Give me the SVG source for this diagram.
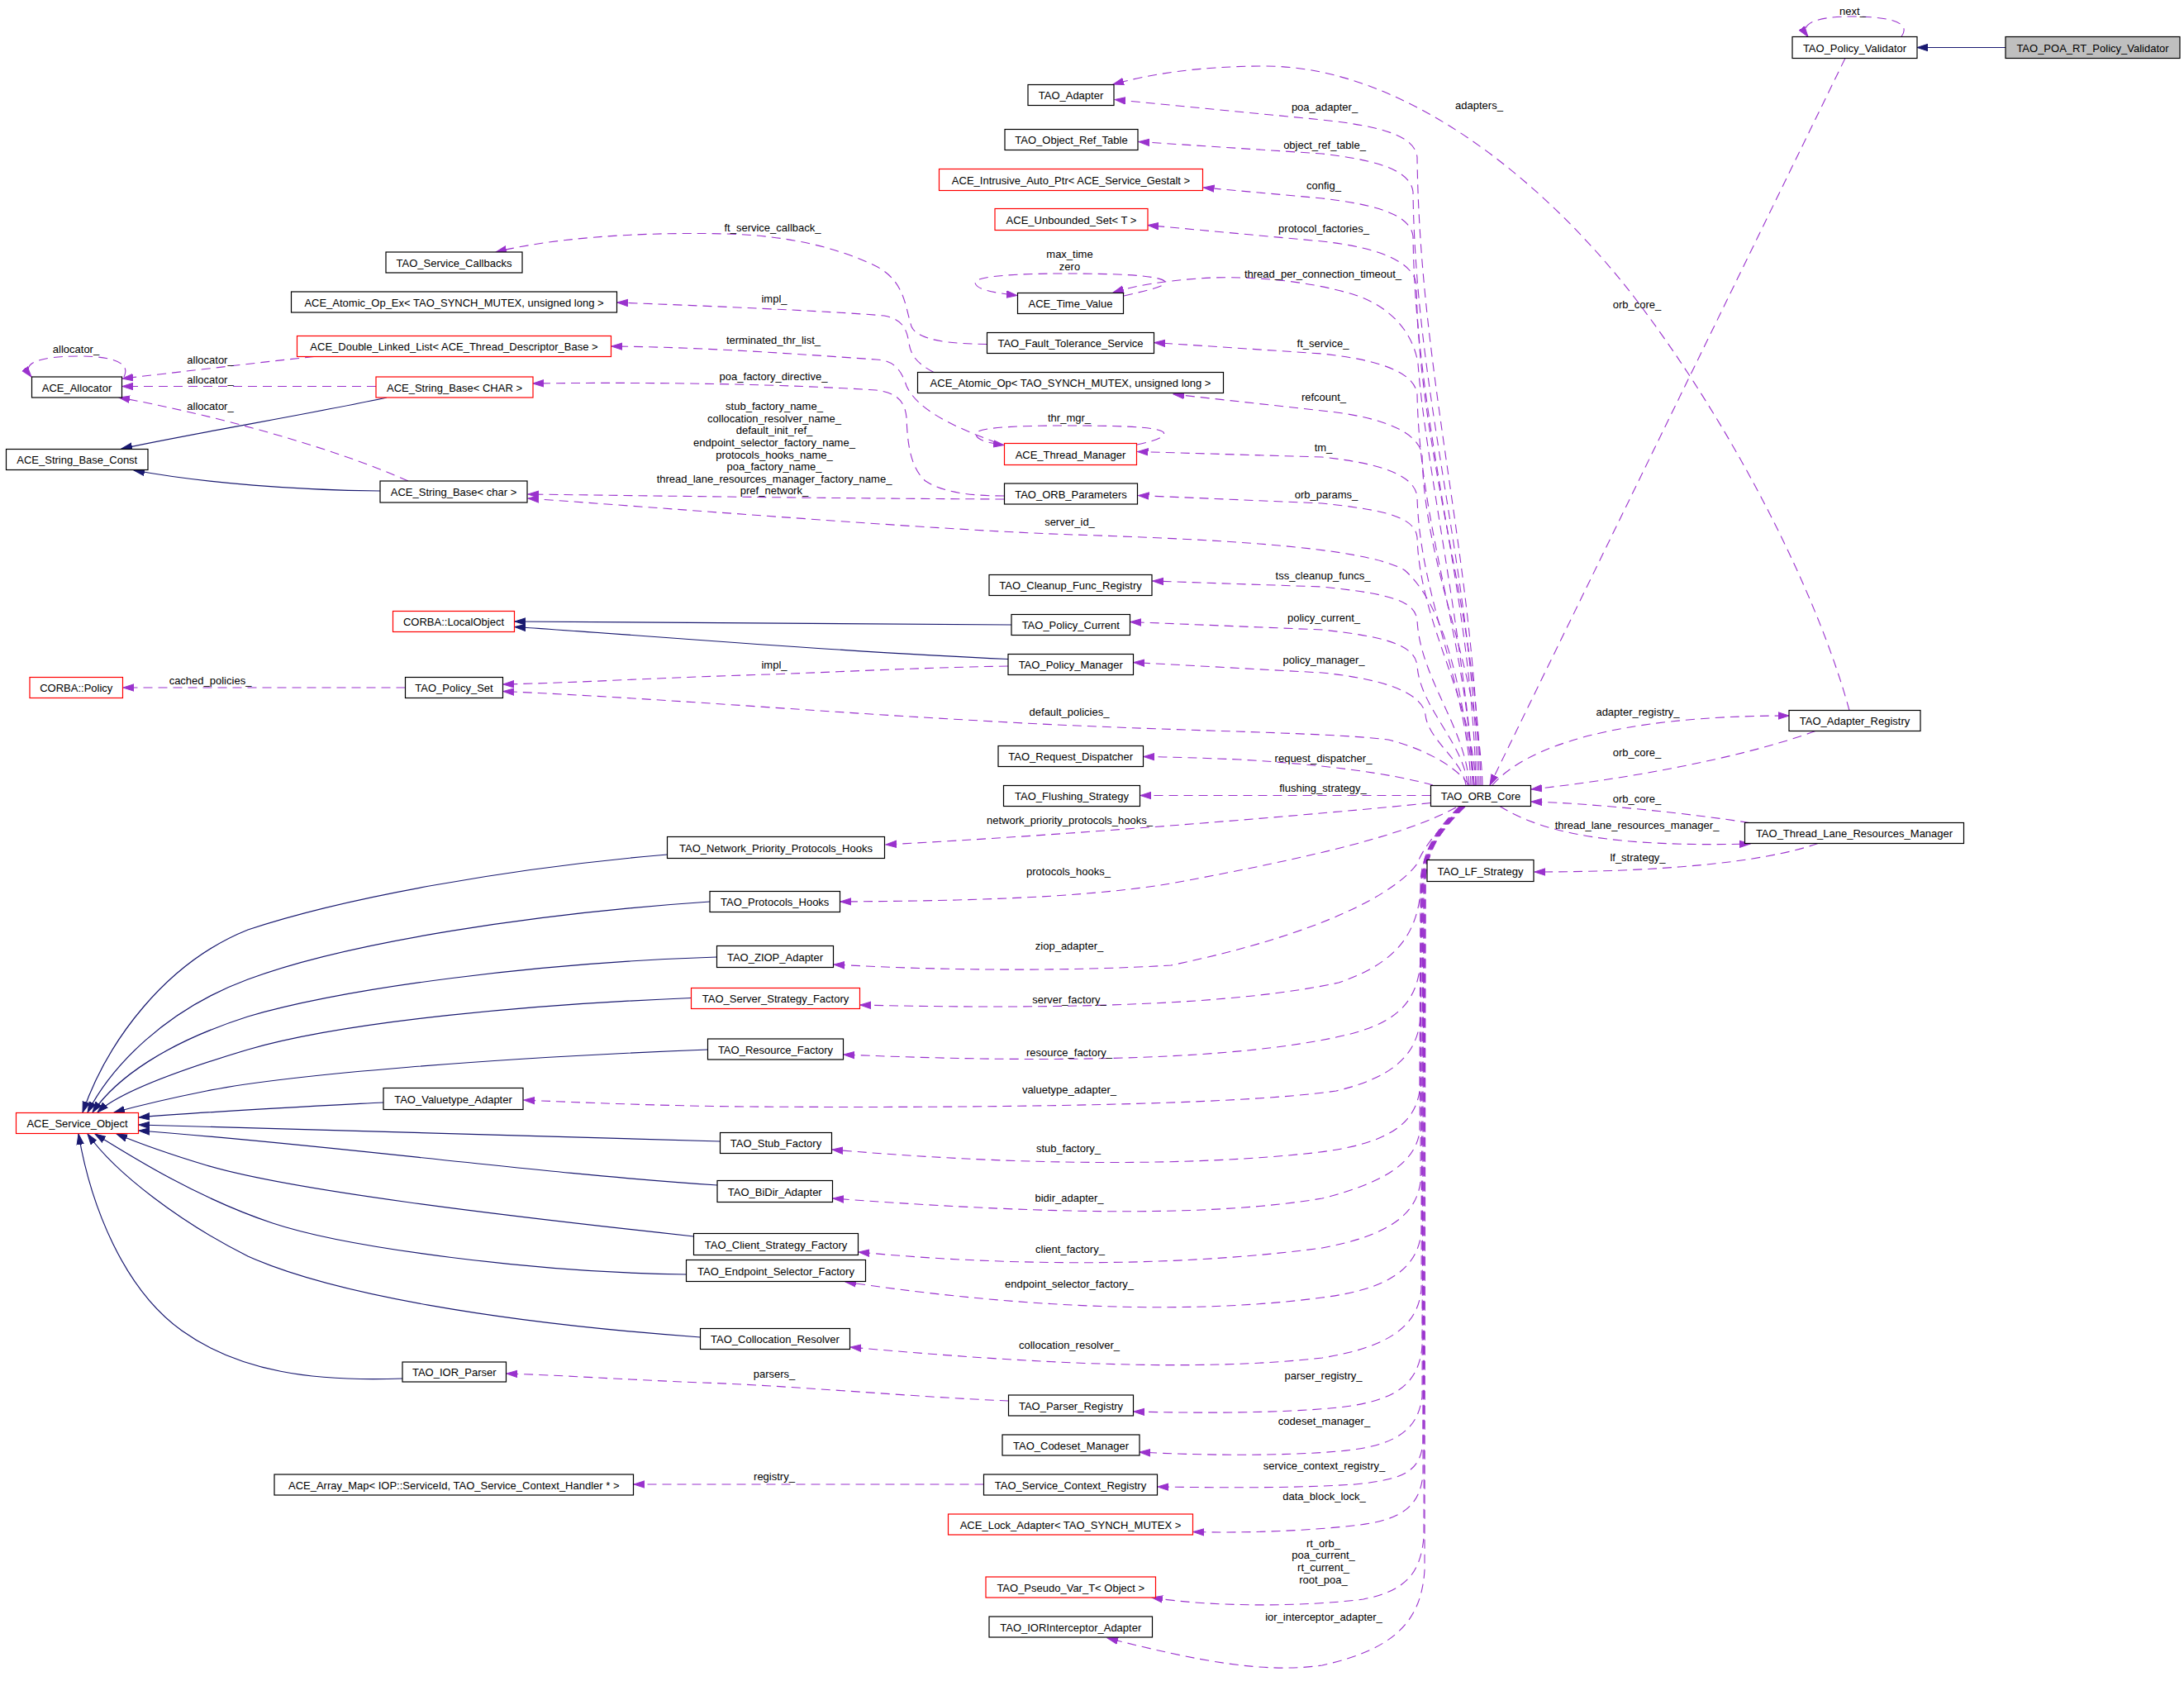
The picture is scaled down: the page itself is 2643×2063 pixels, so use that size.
<svg xmlns="http://www.w3.org/2000/svg" width="2643" height="2063" viewBox="0 0 2643 2063">
<style>
text{font-family:"Liberation Sans",Arial,sans-serif;font-size:13px;fill:#000}
.node rect{fill:#fff;stroke:#000;stroke-width:1.2}
.node.red rect{stroke:#ff0000}
.node.cur rect{fill:#bfbfbf}
.node text{text-anchor:middle}
#edges path{fill:none}
#edges .inh{stroke:#191970;stroke-width:1.2;marker-end:url(#ai)}
#edges .cmp{stroke:#9a32cd;stroke-width:1.1;stroke-dasharray:11,7;marker-end:url(#ac)}
#labels text{text-anchor:middle}
</style>
<defs>
<marker id="ai" markerWidth="14" markerHeight="10" refX="13" refY="5" orient="auto" markerUnits="userSpaceOnUse"><path d="M0,0.8 L13,5 L0,9.2 z" fill="#191970" stroke="#191970" stroke-width="1"/></marker>
<marker id="ac" markerWidth="14" markerHeight="10" refX="13" refY="5" orient="auto" markerUnits="userSpaceOnUse"><path d="M0,0.8 L13,5 L0,9.2 z" fill="#9a32cd" stroke="#9a32cd" stroke-width="1"/></marker>
</defs>
<rect x="0" y="0" width="2643" height="2063" fill="#fff"/>

<g id="edges">
<!-- inheritance -->
<path class="inh" d="M2427,57.5 L2320,57.5"/>
<path class="inh" d="M468,481 C380,500 230,525 147,543"/>
<path class="inh" d="M460,594 C360,593 250,585 162,569"/>
<path class="inh" d="M1224,756 C1000,755 800,752 623,752"/>
<path class="inh" d="M1220,797.5 C1000,788 800,770 623,758.5"/>
<path class="inh" d="M807.5,1034 C620,1050 420,1085 300,1125 C200,1165 130,1260 100,1346"/>
<path class="inh" d="M859,1091 C650,1105 420,1140 300,1185 C200,1222 135,1290 106,1346"/>
<path class="inh" d="M867.5,1158 C650,1165 420,1195 300,1230 C200,1262 140,1305 112,1346"/>
<path class="inh" d="M836.5,1207.5 C650,1215 420,1235 300,1270 C200,1300 140,1325 118,1346"/>
<path class="inh" d="M856.5,1270 C600,1280 350,1300 250,1320 C200,1330 160,1340 138,1346"/>
<path class="inh" d="M464,1334 C350,1340 250,1345 168,1352"/>
<path class="inh" d="M871.5,1381 C600,1375 350,1366 168,1361"/>
<path class="inh" d="M868,1434 C650,1420 400,1385 168,1368"/>
<path class="inh" d="M839.5,1496 C600,1470 350,1440 250,1410 C200,1395 165,1382 141,1372"/>
<path class="inh" d="M830.5,1542 C650,1540 420,1510 330,1480 C240,1450 160,1400 115,1372"/>
<path class="inh" d="M847.5,1618 C600,1600 400,1565 300,1520 C220,1480 140,1420 106,1372"/>
<path class="inh" d="M487,1668 C380,1672 290,1660 220,1610 C150,1560 110,1460 95,1372"/>
<!-- composition / usage -->
<path class="cmp" d="M2301,44.5 C2315,25 2280,20 2240,20 C2200,20 2176,28 2188,44.5"/>
<path class="cmp" d="M2233,70.5 L1803,950"/>
<path class="cmp" d="M2238,859.5 C2200,720 2100,520 1978,360 C1870,220 1700,80 1531,80 C1450,80 1390,90 1347,102"/>
<path class="cmp" d="M1806,950 C1845,905 1950,866 2165,866"/>
<path class="cmp" d="M2197,884.5 C2100,920 1950,945 1853,955"/>
<path class="cmp" d="M2117,995.5 C2050,985 1930,972 1853,970"/>
<path class="cmp" d="M1815,975.5 C1870,1010 1960,1025 2118,1021"/>
<path class="cmp" d="M2200,1020.5 C2130,1045 2000,1055 1857,1055"/>
<path class="cmp" d="M150,456 C158,440 140,431 95,431 C45,431 25,440 38,456"/>
<path class="cmp" d="M380,431.5 C300,440 220,450 148,458"/>
<path class="cmp" d="M455,467.5 L148,467.5"/>
<path class="cmp" d="M494,582 C400,540 250,500 144,481"/>
<path class="cmp" d="M1194.5,416.5 C1150,416 1110,412 1103,395 C1095,370 1095,340 1060,322 C1010,298 950,285 880,283 C760,280 660,290 600,305"/>
<path class="cmp" d="M1130,450.5 C1110,440 1102,430 1100,415 C1097,395 1090,386 1070,382 C1000,376 850,370 747,366"/>
<path class="cmp" d="M1207,536 C1150,515 1110,495 1097,467 C1090,445 1080,436 1060,435 C960,428 850,420 740,419"/>
<path class="cmp" d="M1376,538 C1395,534 1412,529 1408,523 C1400,516 1350,515 1290,515 C1220,515 1185,518 1181,524 C1180,532 1195,536 1215,538.5"/>
<path class="cmp" d="M1360,358 C1385,352 1412,347 1410,341 C1405,333 1350,331 1290,331 C1220,331 1180,335 1180,342 C1181,350 1200,354 1231,357.5"/>
<path class="cmp" d="M1215.5,600 C1170,600 1140,595 1120,582 C1100,565 1098,530 1097,505 C1095,485 1085,475 1060,472 C950,465 800,462 645,464"/>
<path class="cmp" d="M1215.5,604 C1000,603 800,600 639,598"/>
<path class="cmp" d="M1784,950 C1768,820 1745,730 1700,690 C1650,660 1450,652 1300,647 C1150,642 900,622 639,603"/>
<path class="cmp" d="M1790,950 C1786,684 1718,456 1715,190 C1712,165 1675,153 1600,145 L1349,120.5"/>
<path class="cmp" d="M1788,950 C1784,699 1713,483 1710,232 C1707,207 1670,194 1600,186 L1378,171.5"/>
<path class="cmp" d="M1786,950 C1782,718 1713,518 1710,286 C1707,261 1670,248 1600,240 L1456.5,227"/>
<path class="cmp" d="M1792,950 C1788,738 1717,556 1714,344 C1711,319 1674,300 1600,292 L1389,272.5"/>
<path class="cmp" d="M1784,950 C1770,760 1725,560 1716,440 C1710,400 1680,370 1640,357 C1580,338 1500,333 1450,337 C1410,340 1375,345 1347,354"/>
<path class="cmp" d="M1782,950 C1778,784 1718,643 1715,477 C1712,452 1675,436 1600,428 L1397,414.5"/>
<path class="cmp" d="M1794,950 C1790,810 1724,691 1721,551 C1718,526 1681,505 1600,497 L1420,477"/>
<path class="cmp" d="M1780,950 C1776,828 1718,723 1715,601 C1712,576 1675,561 1600,553 L1376.5,546.5"/>
<path class="cmp" d="M1786,950 C1782,845 1718,755 1715,650 C1712,625 1675,617 1600,609 L1377.5,599.5"/>
<path class="cmp" d="M1778,950 C1774,880 1718,820 1715,750 C1712,725 1675,718 1600,710 L1395,703"/>
<path class="cmp" d="M1776,950 C1772,899 1718,856 1715,805 C1712,780 1675,770 1600,762 L1368,752.5"/>
<path class="cmp" d="M1774,950 C1770,920 1728,895 1725,865 C1722,840 1680,822 1600,814 L1372,801.5"/>
<path class="cmp" d="M1778,950 C1760,925 1720,905 1680,895 C1600,885 1400,885 1187,872 C1000,862 800,845 609,836.5"/>
<path class="cmp" d="M1220,806 C1100,808 1000,814 900,817 C800,820 700,826 609,828"/>
<path class="cmp" d="M1734,950 C1680,935 1600,925 1500,919 C1450,917 1420,916 1384,915.5"/>
<path class="cmp" d="M1731.5,962.5 L1380,962.5"/>
<path class="cmp" d="M1731.5,971.5 C1600,985 1300,1010 1072,1022"/>
<path class="cmp" d="M1762,977 C1700,1010 1600,1035 1417,1069 C1300,1088 1150,1090 1017,1091"/>
<path class="cmp" d="M1770,976 C1745,1000 1725,1020 1715,1045 C1690,1080 1600,1130 1417,1168 C1300,1175 1150,1175 1009,1167"/>
<path class="cmp" d="M1766,976 C1742,1000 1722,1025 1720,1065 C1718,1130 1690,1165 1620,1189 C1500,1215 1300,1222 1041,1216"/>
<path class="cmp" d="M1768,976 C1744,1000 1723,1025 1721,1065 L1719,1160 C1717,1220 1680,1242 1617,1255 C1500,1280 1300,1288 1021,1276"/>
<path class="cmp" d="M1770,976 C1746,1000 1724,1025 1721,1065 L1719,1230 C1716,1280 1680,1305 1617,1320 C1500,1337 1200,1341 900,1339 C800,1338 700,1334 634,1331"/>
<path class="cmp" d="M1769,976 C1745,1000 1722,1025 1719,1065 L1718,1320 C1712,1360 1680,1385 1589,1395 C1450,1410 1250,1412 1007,1391"/>
<path class="cmp" d="M1771,976 C1747,1000 1724,1025 1721,1065 L1718,1370 C1712,1405 1680,1430 1600,1450 C1480,1470 1300,1472 1008,1450"/>
<path class="cmp" d="M1767,976 C1743,1000 1723,1025 1720,1065 L1719,1430 C1714,1470 1680,1495 1600,1510 C1450,1530 1250,1535 1039,1515"/>
<path class="cmp" d="M1772,976 C1748,1000 1725,1025 1722,1065 L1720,1490 C1716,1535 1680,1560 1600,1570 C1450,1590 1250,1585 1023,1551"/>
<path class="cmp" d="M1770,976 C1746,1000 1724,1025 1722,1065 L1720,1560 C1716,1605 1680,1630 1600,1643 C1450,1660 1250,1650 1029,1630"/>
<path class="cmp" d="M1773,976 C1749,1000 1726,1025 1723,1065 L1721,1630 C1716,1675 1690,1695 1620,1703 C1550,1710 1450,1710 1372,1708"/>
<path class="cmp" d="M1768,976 C1744,1000 1725,1025 1723,1065 L1721,1690 C1716,1730 1690,1750 1620,1756 C1550,1762 1450,1761 1379,1757"/>
<path class="cmp" d="M1771,976 C1747,1000 1726,1025 1724,1065 L1722,1745 C1719,1780 1700,1790 1640,1796 C1560,1801 1480,1800 1401,1799"/>
<path class="cmp" d="M1769,976 C1745,1000 1725,1025 1724,1065 L1722,1785 C1718,1820 1700,1838 1646,1845 C1580,1853 1500,1855 1444,1853.5"/>
<path class="cmp" d="M1772,976 C1748,1000 1727,1025 1725,1065 L1723,1860 C1719,1905 1700,1925 1650,1935 C1580,1944 1470,1945 1394,1933"/>
<path class="cmp" d="M1770,976 C1746,1000 1727,1025 1725,1065 L1724,1900 C1720,1960 1690,1995 1600,2015 C1530,2025 1450,2010 1340,1982"/>
<path class="cmp" d="M490.5,832 L149,832"/>
<path class="cmp" d="M1220.5,1695 C1100,1690 950,1676 850,1673 C750,1669 680,1664 613,1662"/>
<path class="cmp" d="M1190.5,1796 L767,1796"/>
</g>

<g id="labels">
<text x="2242" y="18">next_</text>
<text x="1790" y="132">adapters_</text>
<text x="1981" y="373">orb_core_</text>
<text x="1603" y="133.5">poa_adapter_</text>
<text x="1603" y="179.5">object_ref_table_</text>
<text x="1602" y="229">config_</text>
<text x="1602" y="281">protocol_factories_</text>
<text x="1294.5" y="312">max_time</text>
<text x="1294.5" y="327">zero</text>
<text x="1601" y="336">thread_per_connection_timeout_</text>
<text x="935" y="279.5">ft_service_callback_</text>
<text x="1601" y="419.5">ft_service_</text>
<text x="937" y="366">impl_</text>
<text x="936" y="416">terminated_thr_list_</text>
<text x="1602" y="485">refcount_</text>
<text x="92" y="427">allocator_</text>
<text x="254.5" y="439.5">allocator_</text>
<text x="254.5" y="463.5">allocator_</text>
<text x="254.5" y="496">allocator_</text>
<text x="936" y="459.5">poa_factory_directive_</text>
<text x="1294" y="510">thr_mgr_</text>
<text x="1601.5" y="545.5">tm_</text>
<text x="937" y="495.5">stub_factory_name_</text>
<text x="937" y="510.5">collocation_resolver_name_</text>
<text x="937" y="525.3">default_init_ref_</text>
<text x="937" y="540">endpoint_selector_factory_name_</text>
<text x="937" y="554.7">protocols_hooks_name_</text>
<text x="937" y="569.2">poa_factory_name_</text>
<text x="937" y="583.7">thread_lane_resources_manager_factory_name_</text>
<text x="937" y="598.3">pref_network_</text>
<text x="1605" y="603">orb_params_</text>
<text x="1294.5" y="635.5">server_id_</text>
<text x="1601" y="701">tss_cleanup_funcs_</text>
<text x="1602" y="751.5">policy_current_</text>
<text x="1602" y="802.5">policy_manager_</text>
<text x="937" y="809">impl_</text>
<text x="254.5" y="827.5">cached_policies_</text>
<text x="1294" y="865.5">default_policies_</text>
<text x="1982" y="866">adapter_registry_</text>
<text x="1981" y="914.5">orb_core_</text>
<text x="1601.5" y="922">request_dispatcher_</text>
<text x="1601" y="957.5">flushing_strategy_</text>
<text x="1981" y="970.5">orb_core_</text>
<text x="1294.5" y="997">network_priority_protocols_hooks_</text>
<text x="1981" y="1002.5">thread_lane_resources_manager_</text>
<text x="1982" y="1041.5">lf_strategy_</text>
<text x="1293" y="1059">protocols_hooks_</text>
<text x="1294" y="1149">ziop_adapter_</text>
<text x="1294" y="1214">server_factory_</text>
<text x="1294" y="1278">resource_factory_</text>
<text x="1294" y="1323">valuetype_adapter_</text>
<text x="1293" y="1394">stub_factory_</text>
<text x="1294" y="1454">bidir_adapter_</text>
<text x="1295" y="1516">client_factory_</text>
<text x="1294" y="1558">endpoint_selector_factory_</text>
<text x="1294" y="1632">collocation_resolver_</text>
<text x="937" y="1667">parsers_</text>
<text x="1601.5" y="1668.5">parser_registry_</text>
<text x="1602.5" y="1724">codeset_manager_</text>
<text x="1602.5" y="1778">service_context_registry_</text>
<text x="937" y="1791">registry_</text>
<text x="1602.5" y="1815">data_block_lock_</text>
<text x="1601.5" y="1871.5">rt_orb_</text>
<text x="1601.5" y="1886">poa_current_</text>
<text x="1601.5" y="1900.5">rt_current_</text>
<text x="1601.5" y="1915.5">root_poa_</text>
<text x="1602" y="1960.5">ior_interceptor_adapter_</text>
</g>

<g id="n_TAO_POA_RT_Policy_Validator" class="node cur"><rect x="2427" y="44.5" width="211" height="26"/><text x="2532.5" y="62.5">TAO_POA_RT_Policy_Validator</text></g>
<g id="n_TAO_Policy_Validator" class="node"><rect x="2169" y="44.5" width="151" height="26"/><text x="2244.5" y="62.5">TAO_Policy_Validator</text></g>
<g id="n_TAO_Adapter" class="node"><rect x="1244" y="102.5" width="104" height="25"/><text x="1296" y="120">TAO_Adapter</text></g>
<g id="n_TAO_Object_Ref_Table" class="node"><rect x="1216" y="156.5" width="161" height="25"/><text x="1296.5" y="174">TAO_Object_Ref_Table</text></g>
<g id="n_ACE_Intrusive_Auto_Ptr" class="node red"><rect x="1136.5" y="204.5" width="319" height="26"/><text x="1296" y="222.5">ACE_Intrusive_Auto_Ptr&lt; ACE_Service_Gestalt &gt;</text></g>
<g id="n_ACE_Unbounded_Set" class="node red"><rect x="1204" y="252.5" width="185" height="26"/><text x="1296.5" y="270.5">ACE_Unbounded_Set&lt; T &gt;</text></g>
<g id="n_ACE_Time_Value" class="node"><rect x="1231.5" y="354.5" width="128" height="25"/><text x="1295.5" y="372">ACE_Time_Value</text></g>
<g id="n_TAO_Service_Callbacks" class="node"><rect x="467" y="305" width="165" height="25"/><text x="549.5" y="322.5">TAO_Service_Callbacks</text></g>
<g id="n_ACE_Atomic_Op_Ex" class="node"><rect x="352.5" y="353" width="394" height="25"/><text x="549.5" y="370.5">ACE_Atomic_Op_Ex&lt; TAO_SYNCH_MUTEX, unsigned long &gt;</text></g>
<g id="n_TAO_Fault_Tolerance_Service" class="node"><rect x="1194.5" y="402.5" width="202" height="25"/><text x="1295.5" y="420">TAO_Fault_Tolerance_Service</text></g>
<g id="n_ACE_Double_Linked_List" class="node red"><rect x="359.5" y="406.5" width="380" height="25"/><text x="549.5" y="424">ACE_Double_Linked_List&lt; ACE_Thread_Descriptor_Base &gt;</text></g>
<g id="n_ACE_Atomic_Op" class="node"><rect x="1110.5" y="450.5" width="370" height="25"/><text x="1295.5" y="468">ACE_Atomic_Op&lt; TAO_SYNCH_MUTEX, unsigned long &gt;</text></g>
<g id="n_ACE_Allocator" class="node"><rect x="38.5" y="456" width="109" height="25"/><text x="93" y="473.5">ACE_Allocator</text></g>
<g id="n_ACE_String_Base_CHAR" class="node red"><rect x="455" y="456" width="190" height="25"/><text x="550" y="473.5">ACE_String_Base&lt; CHAR &gt;</text></g>
<g id="n_ACE_Thread_Manager" class="node red"><rect x="1215.5" y="536.5" width="160" height="26"/><text x="1295.5" y="554.5">ACE_Thread_Manager</text></g>
<g id="n_ACE_String_Base_Const" class="node"><rect x="7.5" y="543.5" width="171.5" height="25"/><text x="93.25" y="561">ACE_String_Base_Const</text></g>
<g id="n_ACE_String_Base_char" class="node"><rect x="460" y="582" width="178" height="26"/><text x="549" y="600">ACE_String_Base&lt; char &gt;</text></g>
<g id="n_TAO_ORB_Parameters" class="node"><rect x="1215.5" y="585" width="161" height="25"/><text x="1296" y="602.5">TAO_ORB_Parameters</text></g>
<g id="n_TAO_Cleanup_Func_Registry" class="node"><rect x="1197" y="695.5" width="197" height="25"/><text x="1295.5" y="713">TAO_Cleanup_Func_Registry</text></g>
<g id="n_CORBA_LocalObject" class="node red"><rect x="475.5" y="739.5" width="147" height="25"/><text x="549" y="757">CORBA::LocalObject</text></g>
<g id="n_TAO_Policy_Current" class="node"><rect x="1224" y="743.5" width="143.5" height="25"/><text x="1295.75" y="761">TAO_Policy_Current</text></g>
<g id="n_TAO_Policy_Manager" class="node"><rect x="1220" y="791.5" width="151.5" height="25"/><text x="1295.75" y="809">TAO_Policy_Manager</text></g>
<g id="n_CORBA_Policy" class="node red"><rect x="36" y="819.5" width="112.5" height="25"/><text x="92.25" y="837">CORBA::Policy</text></g>
<g id="n_TAO_Policy_Set" class="node"><rect x="490.5" y="819.5" width="118" height="25"/><text x="549.5" y="837">TAO_Policy_Set</text></g>
<g id="n_TAO_Adapter_Registry" class="node"><rect x="2165" y="859.5" width="159" height="25"/><text x="2244.5" y="877">TAO_Adapter_Registry</text></g>
<g id="n_TAO_Request_Dispatcher" class="node"><rect x="1208" y="902.5" width="175.5" height="25"/><text x="1295.75" y="920">TAO_Request_Dispatcher</text></g>
<g id="n_TAO_Flushing_Strategy" class="node"><rect x="1214.5" y="950.5" width="165" height="25"/><text x="1297" y="968">TAO_Flushing_Strategy</text></g>
<g id="n_TAO_ORB_Core" class="node"><rect x="1731.5" y="950.5" width="121" height="25"/><text x="1792" y="968">TAO_ORB_Core</text></g>
<g id="n_TAO_Thread_Lane_Resources_Manager" class="node"><rect x="2111.5" y="995.5" width="265" height="25"/><text x="2244" y="1013">TAO_Thread_Lane_Resources_Manager</text></g>
<g id="n_TAO_Network_Priority_Protocols_Hooks" class="node"><rect x="807.5" y="1012.5" width="263" height="26"/><text x="939" y="1030.5">TAO_Network_Priority_Protocols_Hooks</text></g>
<g id="n_TAO_LF_Strategy" class="node"><rect x="1727" y="1040.5" width="129" height="26"/><text x="1791.5" y="1058.5">TAO_LF_Strategy</text></g>
<g id="n_TAO_Protocols_Hooks" class="node"><rect x="859" y="1078.5" width="157.5" height="25"/><text x="937.75" y="1096">TAO_Protocols_Hooks</text></g>
<g id="n_TAO_ZIOP_Adapter" class="node"><rect x="867.5" y="1144.5" width="141" height="26"/><text x="938" y="1162.5">TAO_ZIOP_Adapter</text></g>
<g id="n_TAO_Server_Strategy_Factory" class="node red"><rect x="836.5" y="1195.5" width="204" height="25"/><text x="938.5" y="1213">TAO_Server_Strategy_Factory</text></g>
<g id="n_TAO_Resource_Factory" class="node"><rect x="856.5" y="1257" width="164" height="25"/><text x="938.5" y="1274.5">TAO_Resource_Factory</text></g>
<g id="n_TAO_Valuetype_Adapter" class="node"><rect x="464" y="1316.5" width="169" height="26"/><text x="548.5" y="1334.5">TAO_Valuetype_Adapter</text></g>
<g id="n_ACE_Service_Object" class="node red"><rect x="19.5" y="1346.5" width="148" height="25"/><text x="93.5" y="1364">ACE_Service_Object</text></g>
<g id="n_TAO_Stub_Factory" class="node"><rect x="871.5" y="1370.5" width="135" height="25"/><text x="939" y="1388">TAO_Stub_Factory</text></g>
<g id="n_TAO_BiDir_Adapter" class="node"><rect x="868" y="1428.5" width="139.5" height="26"/><text x="937.75" y="1446.5">TAO_BiDir_Adapter</text></g>
<g id="n_TAO_Client_Strategy_Factory" class="node"><rect x="839.5" y="1492.5" width="199" height="26"/><text x="939" y="1510.5">TAO_Client_Strategy_Factory</text></g>
<g id="n_TAO_Endpoint_Selector_Factory" class="node"><rect x="830.5" y="1524.5" width="217" height="26"/><text x="939" y="1542.5">TAO_Endpoint_Selector_Factory</text></g>
<g id="n_TAO_Collocation_Resolver" class="node"><rect x="847.5" y="1607.5" width="181" height="25"/><text x="938" y="1625">TAO_Collocation_Resolver</text></g>
<g id="n_TAO_IOR_Parser" class="node"><rect x="487" y="1648" width="125.5" height="24"/><text x="549.75" y="1665">TAO_IOR_Parser</text></g>
<g id="n_TAO_Parser_Registry" class="node"><rect x="1220.5" y="1688" width="151" height="25"/><text x="1296" y="1705.5">TAO_Parser_Registry</text></g>
<g id="n_TAO_Codeset_Manager" class="node"><rect x="1213" y="1736" width="166" height="25"/><text x="1296" y="1753.5">TAO_Codeset_Manager</text></g>
<g id="n_ACE_Array_Map" class="node"><rect x="332" y="1784" width="434.5" height="25"/><text x="549.25" y="1801.5">ACE_Array_Map&lt; IOP::ServiceId, TAO_Service_Context_Handler * &gt;</text></g>
<g id="n_TAO_Service_Context_Registry" class="node"><rect x="1190.5" y="1784" width="210" height="25"/><text x="1295.5" y="1801.5">TAO_Service_Context_Registry</text></g>
<g id="n_ACE_Lock_Adapter" class="node red"><rect x="1147.5" y="1832" width="296" height="25"/><text x="1295.5" y="1849.5">ACE_Lock_Adapter&lt; TAO_SYNCH_MUTEX &gt;</text></g>
<g id="n_TAO_Pseudo_Var_T" class="node red"><rect x="1193" y="1908" width="205.5" height="25"/><text x="1295.75" y="1925.5">TAO_Pseudo_Var_T&lt; Object &gt;</text></g>
<g id="n_TAO_IORInterceptor_Adapter" class="node"><rect x="1197" y="1956" width="197.5" height="25"/><text x="1295.75" y="1973.5">TAO_IORInterceptor_Adapter</text></g>
</svg>
